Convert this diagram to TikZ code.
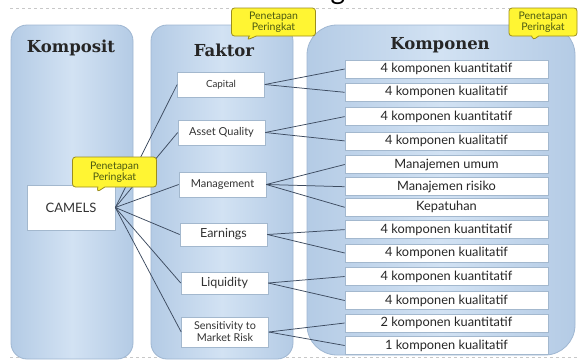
\documentclass[tikz,border=0pt]{standalone}
\usepackage{fontspec}
\setmainfont{Lato}
\newfontfamily\slab{DejaVu Serif}
\usetikzlibrary{shapes.callouts}
\definecolor{paneledge}{HTML}{B4CBE5}
\definecolor{panelmid}{HTML}{D2E2F3}
\definecolor{panelline}{HTML}{9FB7D2}
\definecolor{boxline}{HTML}{A3B8CE}
\definecolor{conn}{HTML}{3D4B60}
\definecolor{calfill}{HTML}{FFF533}
\definecolor{calline}{HTML}{9C8E1E}
\definecolor{caltext}{HTML}{4B5A12}
\definecolor{dashgray}{HTML}{C8C8C8}
\tikzset{
  panel/.style={draw=panelline, line width=0.8pt, left color=paneledge, right color=paneledge, middle color=panelmid, rounded corners=16pt},
  paneltitle/.style={font=\slab\bfseries\fontsize{16.5}{16.5}\selectfont, text=black!85},
  fbox/.style={draw=boxline, fill=white, line width=0.6pt, minimum width=87pt, minimum height=25pt, inner sep=1pt, align=center, font=\fontsize{11}{12}\selectfont, text=black!80},
  kbox/.style={draw=boxline, fill=white, line width=0.6pt, minimum width=203pt, minimum height=18pt, inner sep=0pt, font=\fontsize{12.8}{13}\selectfont, text=black!85},
  link/.style={draw=conn, line width=0.75pt},
  callbox/.style={rectangle callout, rounded corners=3pt, draw=calline, fill=calfill, line width=0.8pt, align=center, inner sep=1pt, minimum width=84pt, minimum height=28pt, font=\fontsize{10.5}{11.5}\selectfont, text=caltext, callout pointer width=7pt}
}
\begin{document}
\begin{tikzpicture}[x=1pt,y=-1pt]
\useasboundingbox (0,0) rectangle (579,360);
\fill[white] (0,0) rectangle (579,360);
% dashed rules
\draw[dashgray, dashed, line width=0.6pt] (10,8) -- (579,8);
\draw[dashgray, dashed, line width=0.6pt] (10,357.5) -- (579,357.5);
% cut-off title glyph
\begin{scope}
\clip (0,0) rectangle (579,360);
\node[anchor=base, font=\fontsize{28}{28}\selectfont, inner sep=0pt] (titleg) at (338,-1) {g};
\end{scope}
% panels
\node[panel, minimum width=122pt, minimum height=334pt] (komposit) at (72,192) {};
\node[panel, minimum width=142pt, minimum height=334pt] (faktor) at (222,192) {};
\node[panel, rounded corners=30pt, minimum width=268pt, minimum height=330pt] (komponen) at (441,190) {};
\node[paneltitle] (tkomposit) at (71,48) {Komposit};
\node[paneltitle] (tfaktor) at (224,50) {Faktor};
\node[paneltitle] (tkomponen) at (440,45) {Komponen};
% komposit
\node[fbox, minimum width=88pt, minimum height=45pt, font=\fontsize{13}{14}\selectfont] (camels) at (71,207.5) {CAMELS};
% faktor boxes
\node[fbox, font=\fontsize{9.8}{11}\selectfont] (cap) at (221,84.5) {Capital};
\node[fbox] (aq) at (221.5,132.5) {Asset Quality};
\node[fbox] (man) at (222.5,184.5) {Management};
\node[fbox, font=\fontsize{12.5}{13}\selectfont, minimum height=23pt] (ear) at (223.5,234.5) {Earnings};
\node[fbox, font=\fontsize{12.5}{13}\selectfont, minimum height=22pt] (liq) at (224.5,283) {Liquidity};
\node[fbox, minimum height=30pt, font=\fontsize{10.8}{12}\selectfont] (sen) at (225,332) {Sensitivity to\\Market Risk};
% komponen boxes
\node[kbox] (k1) at (446.5,69) {4 komponen kuantitatif};
\node[kbox] (k2) at (446.5,92.3) {4 komponen kualitatif};
\node[kbox] (k3) at (446.5,116.6) {4 komponen kuantitatif};
\node[kbox] (k4) at (446.5,140.9) {4 komponen kualitatif};
\node[kbox] (k5) at (446.5,164.5) {Manajemen umum};
\node[kbox] (k6) at (446.5,186.7) {Manajemen risiko};
\node[kbox] (k7) at (446.5,207.3) {Kepatuhan};
\node[kbox] (k8) at (446.5,229.6) {4 komponen kuantitatif};
\node[kbox] (k9) at (446.5,253) {4 komponen kualitatif};
\node[kbox] (k10) at (446.5,276.5) {4 komponen kuantitatif};
\node[kbox] (k11) at (446.5,300.5) {4 komponen kualitatif};
\node[kbox] (k12) at (446.5,323) {2 komponen kuantitatif};
\node[kbox] (k13) at (446.5,345.5) {1 komponen kualitatif};
% connectors camels -> faktor
\foreach \f in {cap,aq,man,ear,liq,sen} \draw[link] (camels.east) -- (\f.west);
% connectors faktor -> komponen
\draw[link] (cap.east) -- (k1.west);
\draw[link] (cap.east) -- (k2.west);
\draw[link] (aq.east) -- (k3.west);
\draw[link] (aq.east) -- (k4.west);
\draw[link] (man.east) -- (k5.west);
\draw[link] (man.east) -- (k6.west);
\draw[link] (man.east) -- (k7.west);
\draw[link] (ear.east) -- (k8.west);
\draw[link] (ear.east) -- (k9.west);
\draw[link] (liq.east) -- (k10.west);
\draw[link] (liq.east) -- (k11.west);
\draw[link] (sen.east) -- (k12.west);
\draw[link] (sen.east) -- (k13.west);
% callouts
\node[callbox, callout absolute pointer={(247,40)}] (call1) at (273.5,22) {Penetapan\\Peringkat};
\node[callbox, minimum width=84pt, minimum height=30pt, callout absolute pointer={(97,192)}] (call2) at (114.5,172) {Penetapan\\Peringkat};
\node[callbox, minimum width=68pt, callout absolute pointer={(533,40)}] (call3) at (543,22) {Penetapan\\Peringkat};
\end{tikzpicture}
\end{document}
